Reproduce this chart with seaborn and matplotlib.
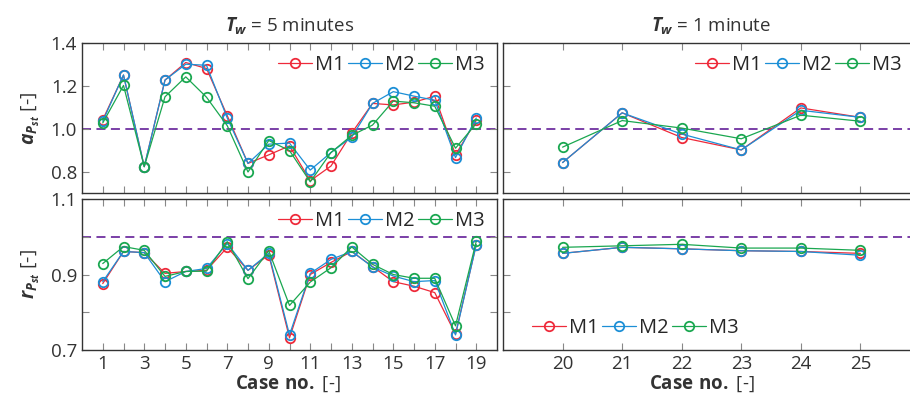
import numpy as np
import pandas as pd
import seaborn as sns
import matplotlib.pyplot as plt

#%% data
cases_5 = list(range(1, 20))
cases_1 = list(range(20, 26))

a_m1_5 = [1.042, 1.25, 0.823, 1.227, 1.309, 1.281, 1.061, 0.838, 0.878, 0.92,
          0.757, 0.826, 0.98, 1.118, 1.111, 1.124, 1.152, 0.878, 1.039]
a_m2_5 = [1.035, 1.251, 0.823, 1.227, 1.301, 1.296, 1.05, 0.838, 0.928, 0.933,
          0.807, 0.889, 0.961, 1.118, 1.173, 1.152, 1.133, 0.865, 1.05]
a_m3_5 = [1.027, 1.202, 0.823, 1.149, 1.242, 1.147, 1.014, 0.798, 0.945, 0.898,
          0.752, 0.889, 0.969, 1.017, 1.129, 1.121, 1.105, 0.909, 1.024]

a_m1_1 = [0.842, 1.074, 0.959, 0.901, 1.097, 1.053]
a_m2_1 = [0.842, 1.074, 0.975, 0.901, 1.086, 1.053]
a_m3_1 = [0.914, 1.038, 1.003, 0.953, 1.063, 1.035]

r_m1_5 = [0.876, 0.961, 0.958, 0.903, 0.908, 0.911, 0.972, 0.911, 0.952, 0.732,
          0.9, 0.932, 0.961, 0.921, 0.881, 0.869, 0.852, 0.742, 0.979]
r_m2_5 = [0.881, 0.961, 0.958, 0.881, 0.908, 0.916, 0.982, 0.911, 0.956, 0.74,
          0.903, 0.94, 0.961, 0.92, 0.896, 0.881, 0.884, 0.74, 0.979]
r_m3_5 = [0.929, 0.974, 0.964, 0.895, 0.908, 0.909, 0.987, 0.889, 0.963, 0.818,
          0.88, 0.918, 0.973, 0.927, 0.9, 0.89, 0.89, 0.764, 0.988]

r_m1_1 = [0.956, 0.972, 0.968, 0.963, 0.961, 0.956]
r_m2_1 = [0.956, 0.972, 0.968, 0.963, 0.961, 0.951]
r_m3_1 = [0.972, 0.976, 0.98, 0.97, 0.97, 0.964]

labels = ['M1', 'M2', 'M3']
colors = ['#EE2A3A', '#1C8FD6', '#1AA750']

#%% style
sns.set_style('ticks')
plt.rcParams['font.family'] = ['Open Sans', 'DejaVu Sans']
plt.rcParams['mathtext.fontset'] = 'custom'
plt.rcParams['mathtext.it'] = 'Open Sans:italic:bold'
plt.rcParams['mathtext.bf'] = 'Open Sans:bold'
plt.rcParams['mathtext.rm'] = 'Open Sans'

fig = plt.figure(figsize=(9.1, 4.03), dpi=100)
W, H = 910, 403
def box(x0, y0, x1, y1):
    return [x0 / W, (H - y1) / H, (x1 - x0) / W, (y1 - y0) / H]

ax_a5 = fig.add_axes(box(82, 43, 497, 193))
ax_a1 = fig.add_axes(box(503, 43, 920, 193))
ax_r5 = fig.add_axes(box(82, 199, 497, 350))
ax_r1 = fig.add_axes(box(503, 199, 920, 350))

def draw(ax, x, series):
    for y, lab, c in zip(series, labels, colors):
        sns.lineplot(x=x, y=y, ax=ax, color=c, label=lab, lw=0.9,
                     marker='o', markersize=6.8, markerfacecolor='none',
                     markeredgecolor=c, markeredgewidth=1.3)
    ax.axhline(1.0, color='#7030A0', lw=1.3, ls=(0, (5, 3)), zorder=0)
    ax.tick_params(direction='in', top=True, right=True, length=5,
                   color='#888888', labelsize=13.5, labelcolor='#333333')
    for s in ax.spines.values():
        s.set_color('#333333')
        s.set_linewidth(1.0)
    ax.set_xlabel('')
    ax.set_ylabel('')

draw(ax_a5, cases_5, [a_m1_5, a_m2_5, a_m3_5])
draw(ax_a1, cases_1, [a_m1_1, a_m2_1, a_m3_1])
draw(ax_r5, cases_5, [r_m1_5, r_m2_5, r_m3_5])
draw(ax_r1, cases_1, [r_m1_1, r_m2_1, r_m3_1])

for ax in (ax_a5, ax_r5):
    ax.set_xlim(0, 20)
    ax.set_xticks(cases_5)
for ax in (ax_a1, ax_r1):
    ax.set_xlim(19, 26)
    ax.set_xticks(cases_1)

for ax in (ax_a5, ax_a1):
    ax.set_ylim(0.7, 1.4)
    ax.set_yticks([0.8, 1.0, 1.2, 1.4])
    ax.tick_params(labelbottom=False)
for ax in (ax_r5, ax_r1):
    ax.set_ylim(0.7, 1.1)
    ax.set_yticks([0.7, 0.8, 0.9, 1.0, 1.1])

ax_a5.set_yticklabels(['0.8', '1.0', '1.2', '1.4'])
ax_r5.set_yticklabels(['0.7', '', '0.9', '', '1.1'])
ax_r5.set_xticklabels([str(c) if c % 2 == 1 else '' for c in cases_5])
ax_r1.set_xticklabels([str(c) for c in cases_1])
ax_a1.tick_params(labelleft=False)
ax_r1.tick_params(labelleft=False)

leg_kw = dict(ncol=3, frameon=False, fontsize=14.5, handlelength=1.7,
              handletextpad=0.15, columnspacing=0.15, borderaxespad=0.2)
ax_a5.legend(loc='upper right', **leg_kw)
ax_a1.legend(loc='upper right', bbox_to_anchor=(0.985, 1.0), **leg_kw)
ax_r5.legend(loc='upper right', **leg_kw)
ax_r1.legend(loc='lower left', bbox_to_anchor=(0.04, 0.0), **leg_kw)

ax_a5.set_ylabel(r'$a_{P_{st}}$ [-]', fontsize=14, color='#333333', labelpad=6)
ax_r5.set_ylabel(r'$r_{P_{st}}$ [-]', fontsize=14, color='#333333', labelpad=6)
ax_a5.set_title(r'$T_w$ = 5 minutes', fontsize=13.5, color='#333333', pad=8)
ax_a1.set_title(r'$T_w$ = 1 minute', fontsize=13.5, color='#333333', pad=8)
fig.text(288 / W, 1 - 384 / H, r'$\mathbf{Case\ no.}$ [-]', fontsize=13.5,
         color='#333333', ha='center', va='center')
fig.text(702 / W, 1 - 384 / H, r'$\mathbf{Case\ no.}$ [-]', fontsize=13.5,
         color='#333333', ha='center', va='center')

fig.savefig('out.png', dpi=100)
